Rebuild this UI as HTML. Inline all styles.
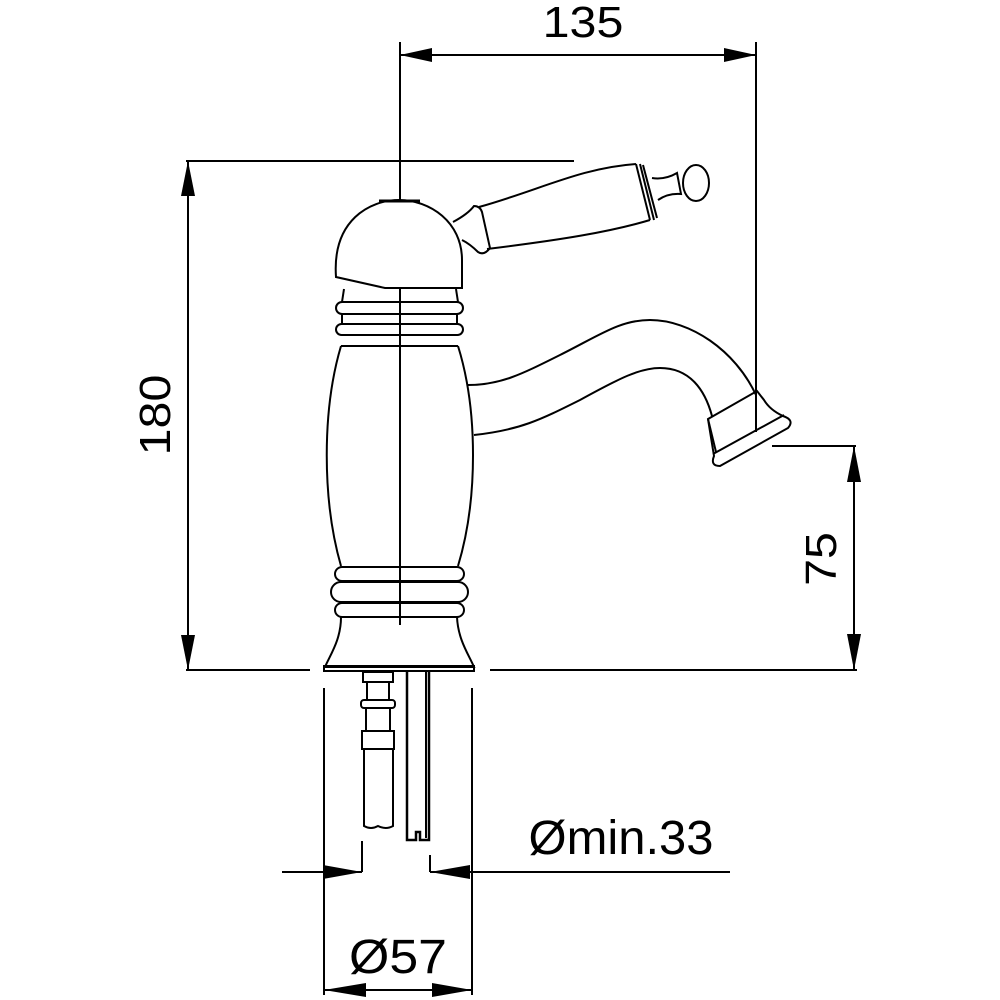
<!DOCTYPE html>
<html><head><meta charset="utf-8"><style>html,body{margin:0;padding:0;background:#fff}svg{display:block}</style></head>
<body>
<svg width="1000" height="1000" viewBox="0 0 1000 1000" xmlns="http://www.w3.org/2000/svg">
<g fill="none" stroke="#000" stroke-width="2">
<line x1="400" y1="55" x2="756" y2="55"/>
<line x1="400" y1="42" x2="400" y2="625"/>
<line x1="756" y1="42" x2="756" y2="432"/>
<line x1="186" y1="161" x2="574" y2="161"/>
<line x1="188" y1="161" x2="188" y2="670"/>
<line x1="186" y1="670" x2="310" y2="670"/>
<line x1="490" y1="670" x2="857" y2="670"/>
<line x1="772" y1="446" x2="856" y2="446"/>
<line x1="854" y1="446" x2="854" y2="670"/>
<line x1="324" y1="688" x2="324" y2="995"/>
<line x1="472" y1="688" x2="472" y2="995"/>
<line x1="362" y1="841" x2="362" y2="872"/>
<line x1="430" y1="855" x2="430" y2="872"/>
<line x1="282" y1="872" x2="362" y2="872"/>
<line x1="430" y1="872" x2="730" y2="872"/>
<line x1="324" y1="990" x2="472" y2="990"/>

<path d="M468 385 C500 385 520 375 560 355 C600 335 620 320 650 320 C690 320 735 350 756 395"/>
<path d="M474 435 C520 430 540 420 580 400 C620 378 640 368 660 368 C690 368 705 390 712 416"/>
<path d="M708 419 L757 391 L764 400 Q770 410 783 416 Q795 420 788 428 L720 466 Q710 466 714 456 Z"/>
<line x1="713" y1="454" x2="784" y2="415"/>
<line x1="708" y1="419" x2="716" y2="452"/>

<path d="M336 277 C332 220 370 200 399 200 C430 200 462 222 462 260 L462 288 L385 288 L336 277 Z" fill="#fff"/>
<line x1="379" y1="201" x2="420" y2="201" stroke-width="3"/>
<path d="M453 222 Q468 214 474 206 Q480 206 482 212 L490 248 Q484 256 478 252 Q470 244 462 240"/>
<path d="M479 207 C540 190 580 168 636 164"/>
<path d="M487 249 C560 240 610 232 650 220"/>
<line x1="636" y1="164" x2="650" y2="220"/>
<line x1="640" y1="164" x2="654" y2="220"/>
<line x1="643" y1="165" x2="657" y2="218"/>
<path d="M652 178 Q665 180 677 173 L681 194 Q668 193 658 200"/>
<ellipse cx="696" cy="183" rx="13" ry="18"/>

<path d="M344 289 L342 302 L458 302 L456 289"/>
<rect x="336" y="302" width="127" height="12" rx="6"/>
<rect x="342" y="314" width="115" height="10"/>
<rect x="336" y="324" width="127" height="11" rx="5.5"/>
<path d="M341 346 C322 410 322 500 341 566"/>
<path d="M458 346 C478 410 478 500 458 566"/>
<line x1="341" y1="346" x2="458" y2="346"/>
<rect x="335" y="567" width="129" height="14" rx="7"/>
<rect x="331" y="582" width="137" height="20" rx="10"/>
<rect x="335" y="603" width="129" height="14" rx="7"/>
<path d="M341 617 C341 640 330 655 325 667 L474 667 C469 655 458 640 457 617"/>
<rect x="324" y="666" width="150" height="5"/>

<rect x="363" y="672" width="30" height="10"/>
<rect x="367" y="682" width="22" height="18"/>
<rect x="361" y="700" width="34" height="8" rx="3"/>
<rect x="366" y="708" width="24" height="23"/>
<rect x="362" y="731" width="32" height="18"/>
<path d="M364 749 L364 826 Q371 830 378 826 Q386 830 393 826 L393 749"/>
<path d="M407 672 L407 840 L416 840 L416 832 L420 832 L420 840 L429 840 L429 672" stroke-width="2.5"/>
<line x1="426" y1="672" x2="426" y2="838"/>
</g>
<g fill="#000">
<polygon points="400,55 432,48 432,62"/>
<polygon points="756,55 724,48 724,62"/>
<polygon points="188,161 181,196 195,196"/>
<polygon points="188,670 181,635 195,635"/>
<polygon points="854,446 847,482 861,482"/>
<polygon points="854,670 847,634 861,634"/>
<polygon points="362,872 323,865 323,879"/>
<polygon points="430,872 470,865 470,879"/>
<polygon points="324,990 366,983 366,997"/>
<polygon points="472,990 432,983 432,997"/>
</g>
<g font-family="Liberation Sans, sans-serif" font-size="44" fill="#000">
<text x="583" y="37" text-anchor="middle" transform="translate(583 0) scale(1.1 1) translate(-583 0)">135</text>
<text x="0" y="0" text-anchor="middle" transform="translate(170 415) rotate(-90) scale(1.1 1)">180</text>
<text x="0" y="0" text-anchor="middle" transform="translate(836 559) rotate(-90) scale(1.1 1)">75</text>
<text x="0" y="0" text-anchor="middle" font-size="48" transform="translate(621 854) scale(1.02 1)">Ømin.33</text>
<text x="0" y="0" text-anchor="middle" font-size="48" transform="translate(398 973) scale(1.08 1)">Ø57</text>
</g>
</svg>
</body></html>
